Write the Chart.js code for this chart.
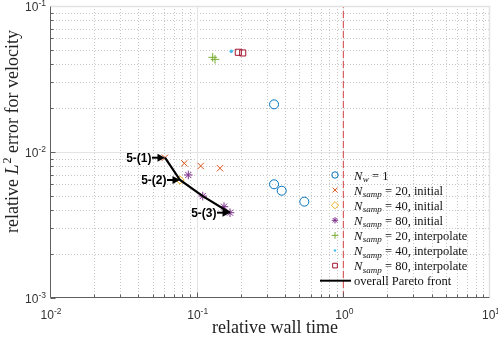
<!DOCTYPE html>
<html><head><meta charset="utf-8">
<script src="https://cdn.jsdelivr.net/npm/chart.js@4/dist/chart.umd.min.js"></script>
<style>html,body{margin:0;padding:0;background:#fff}canvas{display:block}</style>
</head><body>
<canvas id="c" width="498" height="337"></canvas>
<script>
// ---- data ----
const nw1X  = [0.337, 0.337, 0.380, 0.542];
const nw1Y  = [0.0212, 0.00601, 0.00543, 0.00457];
const s20iX = [0.0608, 0.0824, 0.1065, 0.1442];
const s20iY = [0.00914, 0.00837, 0.00802, 0.00774];
const s40iX = [0.0770];
const s40iY = [0.00643];
const s80iX = [0.0877, 0.110, 0.1536, 0.1688];
const s80iY = [0.00696, 0.00499, 0.00422, 0.00384];
const s20pX = [0.1286, 0.1334];
const s20pY = [0.0445, 0.0431];
const s40pX = [0.1722];
const s40pY = [0.0489];
const s80pX = [0.1923, 0.206];
const s80pY = [0.0482, 0.0477];
const paretoX = [0.0608, 0.0770, 0.110, 0.1688];
const paretoY = [0.00914, 0.00643, 0.00499, 0.00384];
const paretoLabels = ['5-(1)', '5-(2)', '5-(3)'];
const paretoLabelIdx = [0, 1, 3];
const refLineX = [1, 1];
const refLineY = [0.001, 0.1];
const xTickVals = [0.01, 0.1, 1, 10];
const xTickExps = ['-2', '-1', '0', '1'];
const yTickVals = [0.001, 0.01, 0.1];
const yTickExps = ['-3', '-2', '-1'];
const legendSubs = ['w', 'samp', 'samp', 'samp', 'samp', 'samp', 'samp'];
const legendRest = [' = 1', ' = 20, initial', ' = 40, initial', ' = 80, initial',
                    ' = 20, interpolate', ' = 40, interpolate', ' = 80, interpolate'];
const legendPareto = 'overall Pareto front';
const xTitle = 'relative wall time';

const pts = (xs, ys) => xs.map((x, i) => ({x, y: ys[i]}));

const C = {
  blue: '#0072BD', orange: '#D95319', yellow: '#EDB120', purple: '#7E2F8E',
  green: '#77AC30', cyan: '#4DBEEE', maroon: '#A2142F'
};

const series = [
  {data: pts(nw1X, nw1Y),   style: 'circle',   color: C.blue,   r: 4.5, lr: 3.2},
  {data: pts(s20iX, s20iY), style: 'crossRot', color: C.orange, r: 4.5, lr: 3.4},
  {data: pts(s40iX, s40iY), style: 'rectRot',  color: C.yellow, r: 4.2, lr: 3.6},
  {data: pts(s80iX, s80iY), style: 'star',     color: C.purple, r: 4.3, lr: 3.2},
  {data: pts(s20pX, s20pY), style: 'cross',    color: C.green,  r: 4.3, lr: 3.4},
  {data: pts(s40pX, s40pY), style: 'dot',      color: C.cyan,   r: 1.8, lr: 1.3},
  {data: pts(s80pX, s80pY), style: 'rect',     color: C.maroon, r: 4.3, lr: 3.3},
];

const datasets = series.map(s => ({
  type: 'scatter',
  data: s.data,
  pointStyle: s.style === 'dot' ? 'circle' : s.style,
  pointRadius: s.r,
  pointBorderColor: s.color,
  pointBackgroundColor: s.style === 'dot' ? s.color : 'rgba(0,0,0,0)',
  pointBorderWidth: s.style === 'dot' ? 0 : 1,
  showLine: false
}));
datasets.push({
  type: 'line', data: pts(paretoX, paretoY), borderColor: '#000', borderWidth: 2.2,
  pointRadius: 0, fill: false, order: -1
});
datasets.push({
  type: 'line', data: pts(refLineX, refLineY), borderColor: '#d64545', borderWidth: 1,
  borderDash: [7, 3], pointRadius: 0, fill: false, order: 5
});

function drawMarker(ctx, style, x, y, r, color) {
  ctx.save();
  ctx.strokeStyle = color; ctx.fillStyle = color; ctx.lineWidth = 1;
  ctx.beginPath();
  const d = r * Math.SQRT1_2;
  if (style === 'circle') { ctx.arc(x, y, r, 0, Math.PI * 2); ctx.stroke(); }
  else if (style === 'crossRot') { ctx.moveTo(x-d,y-d); ctx.lineTo(x+d,y+d); ctx.moveTo(x+d,y-d); ctx.lineTo(x-d,y+d); ctx.stroke(); }
  else if (style === 'cross') { ctx.moveTo(x-r,y); ctx.lineTo(x+r,y); ctx.moveTo(x,y-r); ctx.lineTo(x,y+r); ctx.stroke(); }
  else if (style === 'star') { ctx.moveTo(x-r,y); ctx.lineTo(x+r,y); ctx.moveTo(x,y-r); ctx.lineTo(x,y+r);
    ctx.moveTo(x-d,y-d); ctx.lineTo(x+d,y+d); ctx.moveTo(x+d,y-d); ctx.lineTo(x-d,y+d); ctx.stroke(); }
  else if (style === 'rectRot') { ctx.moveTo(x-r,y); ctx.lineTo(x,y-r); ctx.lineTo(x+r,y); ctx.lineTo(x,y+r); ctx.closePath(); ctx.stroke(); }
  else if (style === 'rect') { ctx.rect(x-d, y-d, 2*d, 2*d); ctx.stroke(); }
  else if (style === 'dot') { ctx.arc(x, y, r, 0, Math.PI * 2); ctx.fill(); }
  ctx.restore();
}

const decoPlugin = {
  id: 'deco',
  beforeDatasetsDraw(chart) {
    const {ctx, chartArea: a, scales: {x: sx, y: sy}} = chart;
    ctx.save();
    const minorX = [], majorX = [], minorY = [], majorY = [];
    for (let d = -2; d <= 0; d++) for (let k = 1; k <= 9; k++) {
      const v = k * Math.pow(10, d);
      (k === 1 ? majorX : minorX).push(v);
    }
    for (let d = -3; d <= -2; d++) for (let k = 1; k <= 9; k++) {
      const v = k * Math.pow(10, d);
      (k === 1 ? majorY : minorY).push(v);
    }
    ctx.lineWidth = 1;
    ctx.strokeStyle = '#c8c8c8';
    ctx.setLineDash([1, 2]);
    ctx.beginPath();
    minorX.forEach(v => { const p = Math.round(sx.getPixelForValue(v)) + 0.5; ctx.moveTo(p, a.top); ctx.lineTo(p, a.bottom); });
    minorY.forEach(v => { const p = Math.round(sy.getPixelForValue(v)) + 0.5; ctx.moveTo(a.left, p); ctx.lineTo(a.right, p); });
    ctx.stroke();
    ctx.setLineDash([]);
    ctx.strokeStyle = '#e4e4e4';
    ctx.beginPath();
    majorX.forEach(v => { const p = Math.round(sx.getPixelForValue(v)) + 0.5; if (p > a.left + 2) { ctx.moveTo(p, a.top); ctx.lineTo(p, a.bottom); } });
    majorY.forEach(v => { const p = Math.round(sy.getPixelForValue(v)) + 0.5; if (p < a.bottom - 2) { ctx.moveTo(a.left, p); ctx.lineTo(a.right, p); } });
    ctx.stroke();
    ctx.restore();
  },
  afterDraw(chart) {
    const {ctx, chartArea: a, scales: {x: sx, y: sy}} = chart;
    ctx.save();
    const L = Math.round(a.left) + 0.5, R = Math.round(a.right) - 0.5;
    const T = Math.round(a.top) + 0.5, B = Math.round(a.bottom) - 0.5;
    ctx.lineWidth = 1.5;
    ctx.strokeStyle = '#e2e2e2';
    ctx.beginPath(); ctx.moveTo(L, T); ctx.lineTo(R, T); ctx.lineTo(R, B); ctx.stroke();
    ctx.lineWidth = 1;
    ctx.strokeStyle = '#606060';
    ctx.beginPath(); ctx.moveTo(L, T); ctx.lineTo(L, B); ctx.lineTo(R, B); ctx.stroke();
    ctx.beginPath();
    for (let d = -2; d <= 0; d++) for (let k = 1; k <= 9; k++) {
      const v = k * Math.pow(10, d); const p = Math.round(sx.getPixelForValue(v)) + 0.5;
      const len = k === 1 ? 5 : 3; ctx.moveTo(p, B); ctx.lineTo(p, B - len);
    }
    for (let d = -3; d <= -2; d++) for (let k = 1; k <= 9; k++) {
      const v = k * Math.pow(10, d); const p = Math.round(sy.getPixelForValue(v)) + 0.5;
      const len = k === 1 ? 5 : 3; ctx.moveTo(L, p); ctx.lineTo(L + len, p);
    }
    ctx.stroke();
    ctx.fillStyle = '#333';
    ctx.textBaseline = 'alphabetic';
    const big = '12px "Liberation Sans", Arial, sans-serif';
    const small = '8.5px "Liberation Sans", Arial, sans-serif';
    function expLabel(exp, x, y, align) {
      ctx.font = big; const w1 = ctx.measureText('10').width;
      ctx.font = small; const w2 = ctx.measureText(exp).width;
      const tot = w1 + w2;
      let x0 = align === 'center' ? x - tot / 2 : x - tot;
      ctx.textAlign = 'left';
      ctx.font = big; ctx.fillText('10', x0, y);
      ctx.font = small; ctx.fillText(exp, x0 + w1, y - 5);
    }
    xTickVals.forEach((v, i) => expLabel(xTickExps[i], sx.getPixelForValue(v) + 1, a.bottom + 21, 'center'));
    yTickVals.forEach((v, i) => expLabel(yTickExps[i], a.left - 4, sy.getPixelForValue(v) + 5, 'right'));
    ctx.fillStyle = '#222';
    ctx.font = '18px "Liberation Serif", "Times New Roman", serif';
    ctx.textAlign = 'center';
    ctx.fillText(xTitle, 275, 333);
    ctx.save();
    ctx.translate(18, 132);
    ctx.rotate(-Math.PI / 2);
    const fN = '18px "Liberation Serif", serif', fI = 'italic 18px "Liberation Serif", serif', fS = '12px "Liberation Serif", serif';
    const parts = [['relative ', fN, 0], ['L', fI, 0], ['2', fS, -7], [' error for velocity', fN, 0]];
    let tw = 0; parts.forEach(p => { ctx.font = p[1]; p.w = ctx.measureText(p[0]).width; tw += p.w; });
    let cx = -tw / 2; ctx.textAlign = 'left';
    parts.forEach(p => { ctx.font = p[1]; ctx.fillText(p[0], cx, p[2]); cx += p.w + (p[0] === 'L' ? 1 : 0); });
    ctx.restore();
    ctx.fillStyle = '#000'; ctx.strokeStyle = '#000';
    paretoLabelIdx.forEach((idx, i) => {
      const tx = sx.getPixelForValue(paretoX[idx]), ty = sy.getPixelForValue(paretoY[idx]);
      const x0 = tx - 13;
      ctx.font = 'bold 12px "Liberation Sans", Arial, sans-serif';
      ctx.textAlign = 'right'; ctx.textBaseline = 'middle';
      ctx.fillText(paretoLabels[i], x0 - 0.5, ty + 0.5);
      ctx.lineWidth = 2;
      ctx.beginPath(); ctx.moveTo(x0, ty); ctx.lineTo(tx - 5, ty); ctx.stroke();
      ctx.beginPath(); ctx.moveTo(tx, ty); ctx.lineTo(tx - 7.5, ty - 4); ctx.lineTo(tx - 7.5, ty + 4); ctx.closePath(); ctx.fill();
    });
    ctx.textBaseline = 'alphabetic'; ctx.textAlign = 'left';
    const rowY0 = 175, rowH = 15.1, mX = 335, tX = 354;
    const lf = '12.5px "Liberation Serif", serif', lfi = 'italic 12.5px "Liberation Serif", serif', lfs = 'italic 9px "Liberation Serif", serif';
    series.forEach((s, i) => {
      const y = rowY0 + i * rowH;
      drawMarker(ctx, s.style, mX, y, s.lr, s.color);
      ctx.fillStyle = '#111';
      let x = tX;
      ctx.font = lfi; ctx.fillText('N', x, y + 4.5); x += ctx.measureText('N').width + 0.5;
      ctx.font = lfs; ctx.fillText(legendSubs[i], x, y + 7); x += ctx.measureText(legendSubs[i]).width;
      ctx.font = lf; ctx.fillText(legendRest[i], x, y + 4.5);
    });
    const py = rowY0 + 7 * rowH;
    ctx.strokeStyle = '#000'; ctx.lineWidth = 2;
    ctx.beginPath(); ctx.moveTo(320, py); ctx.lineTo(351, py); ctx.stroke();
    ctx.fillStyle = '#111'; ctx.font = lf; ctx.fillText(legendPareto, tX, py + 4.5);
    ctx.restore();
  }
};

new Chart(document.getElementById('c'), {
  type: 'scatter',
  data: {datasets},
  options: {
    responsive: false, animation: false, devicePixelRatio: 1,
    layout: {padding: {left: 50, top: 6, right: 8, bottom: 39}},
    plugins: {legend: {display: false}, tooltip: {enabled: false}},
    scales: {
      x: {type: 'logarithmic', min: 0.01, max: 10, display: false},
      y: {type: 'logarithmic', min: 0.001, max: 0.1, display: false}
    }
  },
  plugins: [decoPlugin]
});
</script>
</body></html>
